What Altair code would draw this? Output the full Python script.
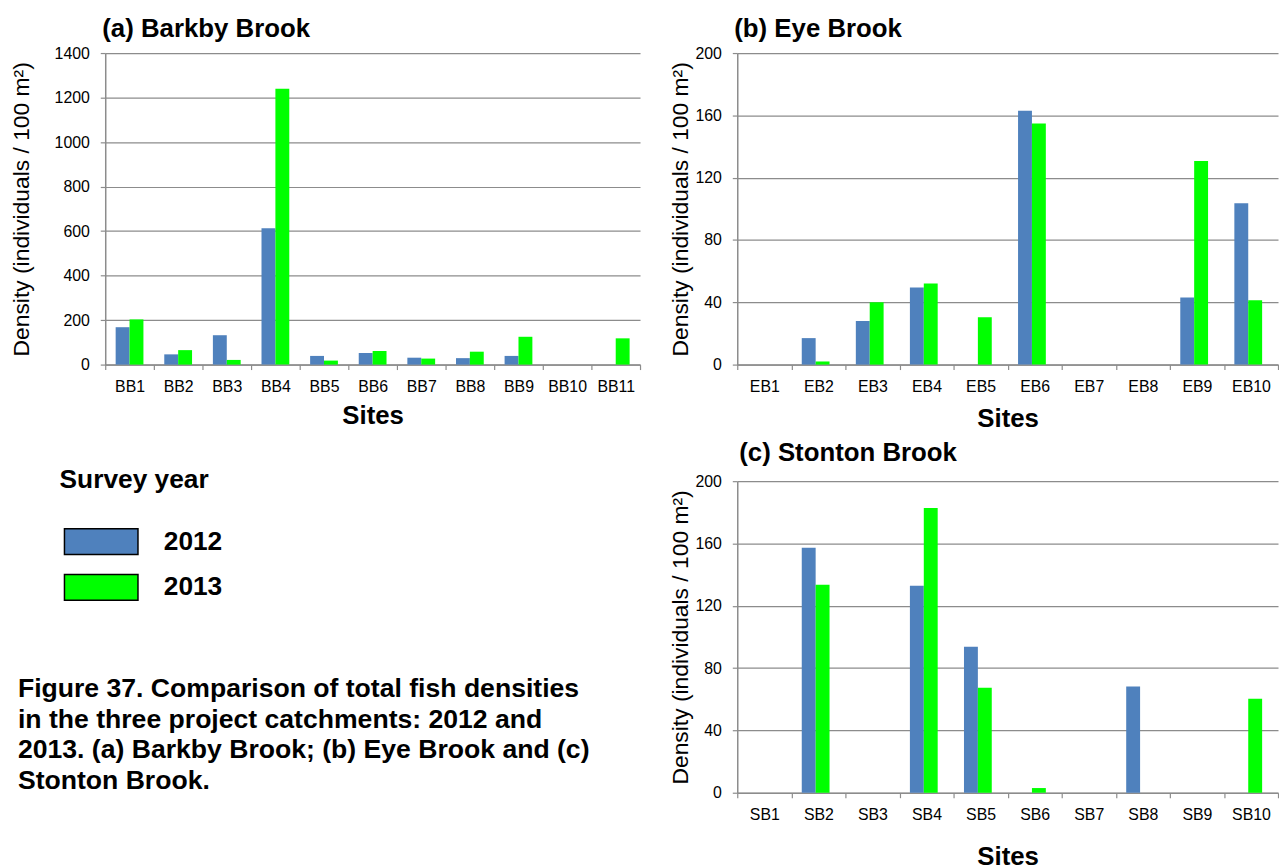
import altair as alt
import pandas as pd

FONT = "Liberation Sans"
YEARS = ["2012", "2013"]
COLORS = ["#4F81BD", "#00FF00"]
Y_TITLE = "Density (individuals / 100 m²)"

bb_sites = ["BB1", "BB2", "BB3", "BB4", "BB5", "BB6", "BB7", "BB8", "BB9", "BB10", "BB11"]
bb_2012 = [168, 46, 132, 613, 39, 52, 31, 29, 39, 0, 0]
bb_2013 = [203, 65, 21, 1240, 18, 61, 27, 58, 125, 0, 118]

eb_sites = ["EB1", "EB2", "EB3", "EB4", "EB5", "EB6", "EB7", "EB8", "EB9", "EB10"]
eb_2012 = [0, 17, 28, 49.5, 0, 162.9, 0, 0, 43, 103.6]
eb_2013 = [0, 2, 40, 52, 30.4, 154.8, 0, 0, 130.7, 41.3]

sb_sites = ["SB1", "SB2", "SB3", "SB4", "SB5", "SB6", "SB7", "SB8", "SB9", "SB10"]
sb_2012 = [0, 157.3, 0, 132.9, 93.7, 0, 0, 68.2, 0, 0]
sb_2013 = [0, 133.5, 0, 182.8, 67.4, 3, 0, 0, 0, 60.4]

caption_lines = [
    "Figure 37. Comparison of total fish densities",
    "in the three project catchments: 2012 and",
    "2013. (a) Barkby  Brook; (b) Eye Brook and (c)",
    "Stonton Brook.",
]

GRID = "#8c8c8c"

legend = alt.Legend(
    title="Survey year", orient="none", legendX=-46, legendY=417, direction="vertical",
    titleFont=FONT, titleFontSize=26.5, titleFontWeight="bold", titleColor="black",
    titlePadding=35, titleAnchor="start",
    labelFont=FONT, labelFontSize=26.5, labelFontWeight="bold", labelColor="black",
    labelOffset=77, symbolType="M-0.7,-1H5V1H-0.7Z", symbolSize=676,
    symbolStrokeColor="black", symbolStrokeWidth=1.5, symbolOpacity=1,
    rowPadding=14, padding=0,
)


def panel(sites, v12, v13, ymax, step, title, w, h, ytp, xtp, toff, tdx):
    df = pd.DataFrame({
        "Site": sites + sites,
        "Year": [YEARS[0]] * len(sites) + [YEARS[1]] * len(sites),
        "Density": v12 + v13,
    })
    return alt.Chart(df).mark_bar().encode(
        x=alt.X("Site:N", sort=sites, scale=alt.Scale(paddingInner=0, paddingOuter=0),
                axis=alt.Axis(title="Sites", labelAngle=0, tickBand="extent",
                              labelFont=FONT, labelFontSize=16, labelColor="black", labelPadding=9,
                              tickSize=5, tickColor=GRID, tickWidth=1.2,
                              domainColor=GRID, domainWidth=1.5,
                              titleFont=FONT, titleFontSize=26, titleFontWeight="bold",
                              titleColor="black", titlePadding=xtp)),
        xOffset=alt.XOffset("Year:N", sort=YEARS, scale=alt.Scale(paddingInner=0, paddingOuter=0.75)),
        y=alt.Y("Density:Q", scale=alt.Scale(domain=[0, ymax], nice=False),
                axis=alt.Axis(title=Y_TITLE, values=list(range(0, ymax + 1, step)), format="d",
                              grid=True, gridColor=GRID, gridWidth=1.2,
                              labelFont=FONT, labelFontSize=16, labelColor="black", labelPadding=11,
                              tickSize=5, tickColor=GRID, tickWidth=1.2,
                              domainColor=GRID, domainWidth=1.5,
                              titleFont=FONT, titleFontSize=23, titleFontWeight="normal",
                              titleColor="black", titlePadding=ytp)),
        color=alt.Color("Year:N", scale=alt.Scale(domain=YEARS, range=COLORS), legend=legend),
    ).properties(
        width=w, height=h,
        title=alt.TitleParams(title, anchor="start", frame="group", font=FONT, fontSize=26,
                              fontWeight="bold", color="black", offset=toff, baseline="alphabetic", dx=tdx),
    )


chart_a = panel(bb_sites, bb_2012, bb_2013, 1400, 200, "(a) Barkby Brook", 539, 314, 21, 8.5, -18, -3)
chart_b = panel(eb_sites, eb_2012, eb_2013, 200, 40, "(b) Eye Brook", 545, 314, 2, 11, -18, -3)
chart_c = panel(sb_sites, sb_2012, sb_2013, 200, 40, "(c) Stonton Brook", 545, 314, 2, 21, -14, 2)

cap_df = pd.DataFrame({"k": [0]})
caption = alt.Chart(cap_df).mark_text(
    align="left", baseline="alphabetic", font=FONT, fontSize=26.8, fontWeight="bold",
    lineHeight=30.7, color="black",
).encode(
    x=alt.value(-88), y=alt.value(218), text=alt.value(caption_lines),
).properties(width=300, height=314)

chart = alt.concat(
    chart_a, chart_b, caption, chart_c,
    columns=2, spacing={"row": 117.5, "column": 98}, bounds="flush", align="each",
).properties(
    padding={"left": 2, "top": 5, "right": 0, "bottom": 0}
).configure_view(stroke=None)

chart.save("out.html", embed_options={"renderer": "svg", "actions": False})
